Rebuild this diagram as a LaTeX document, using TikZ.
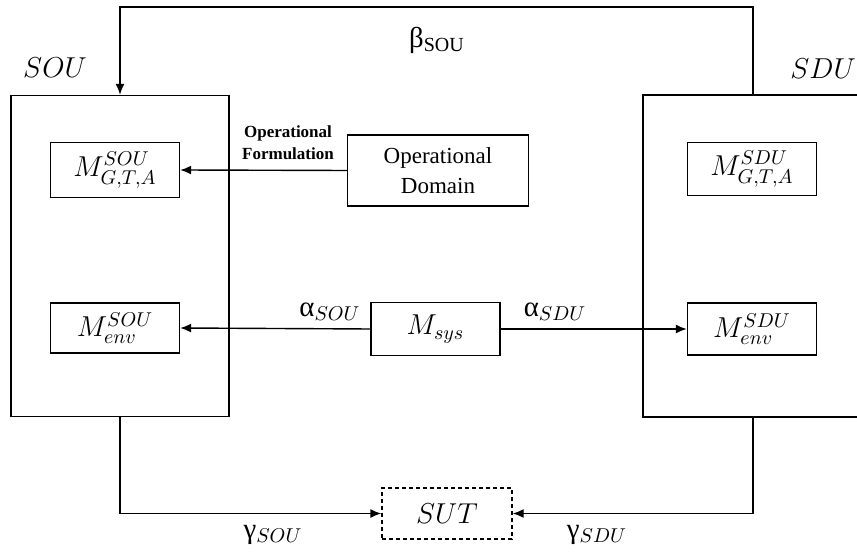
\documentclass[tikz,border=0pt]{standalone}
\usepackage{amsmath}
\usepackage{fontspec}
\setmainfont{Liberation Serif}
\newfontfamily\tnr{Liberation Serif}
\usepackage{tikz}
\usetikzlibrary{arrows.meta}

\begin{document}
\begin{tikzpicture}[x=0.5pt,y=-0.5pt,line width=0.7pt,
      blk/.style={draw,inner sep=0pt,font=\Large},
      dashblk/.style={blk,dash pattern=on 2pt off 1.5pt},
      arr/.style={-{Latex[length=5.5pt,width=4.5pt]}},
      lbl/.style={inner sep=0pt,font=\tnr\Large}]
      
      \useasboundingbox (0,0) rectangle (857,555);
      
      %outer units
      \node[blk,minimum width=109pt,minimum height=160.5pt] (souBox) at (120,256) {};
      \node[blk,minimum width=110pt,minimum height=161pt] (sduBox) at (753,256) {};
      \node[lbl] (souLbl) at (55,68) {$SOU$};
      \node[lbl] (sduLbl) at (823,69) {$SDU$};
      
      %inner models
      \node[blk,minimum width=64.5pt,minimum height=27.5pt] (mgtaSou) at (115,170) {$M^{SOU}_{G,T,A}$};
      \node[blk,minimum width=64.5pt,minimum height=26.5pt] (mgtaSdu) at (752,169) {$M^{SDU}_{G,T,A}$};
      \node[blk,minimum width=64.5pt,minimum height=25pt] (menvSou) at (115,328) {$M^{SOU}_{env}$};
      \node[blk,minimum width=64.5pt,minimum height=26pt] (menvSdu) at (752,329) {$M^{SDU}_{env}$};
      \node[blk,minimum width=64.5pt,minimum height=26.5pt] (msys) at (435.5,329) {$M_{sys}$};
      \node[blk,minimum width=90.5pt,minimum height=35.5pt,align=center,
            font=\tnr\fontsize{11.5}{15}\selectfont] (opDom) at (438,170.5) {Operational\\Domain};
      \node[dashblk,minimum width=65pt,minimum height=25.5pt] (sut) at (447,513.5) {$SUT$};
      
      %connectors
      \coordinate (top) at (437,7);
      \draw[arr] (sduBox.north) |- (top) -| (souBox.north);
      \draw[arr] (opDom.west) -- (mgtaSou.east);
      \draw[arr] (msys.west) -- (menvSou.east);
      \draw[arr] (msys.east) -- (menvSdu.west);
      \draw[arr] (souBox.south) |- (sut.west);
      \draw[arr] (sduBox.south) |- (sut.east);
      
      \node[lbl] (betaLbl) at (437,40) {β$_{\mathrm{SOU}}$};
      \node[inner sep=0pt,align=center,font=\tnr\fontsize{8.5}{11}\selectfont\bfseries] (formLbl) at (288,143) {Operational\\Formulation};
      \node[lbl] (alphaSou) at (330,312) {α$_{SOU}$};
      \node[lbl] (alphaSdu) at (555,312) {α$_{SDU}$};
      \node[lbl] (gammaSou) at (273,535) {γ$_{SOU}$};
      \node[lbl] (gammaSdu) at (597,535) {γ$_{SDU}$};
      
\end{tikzpicture}
\end{document}
